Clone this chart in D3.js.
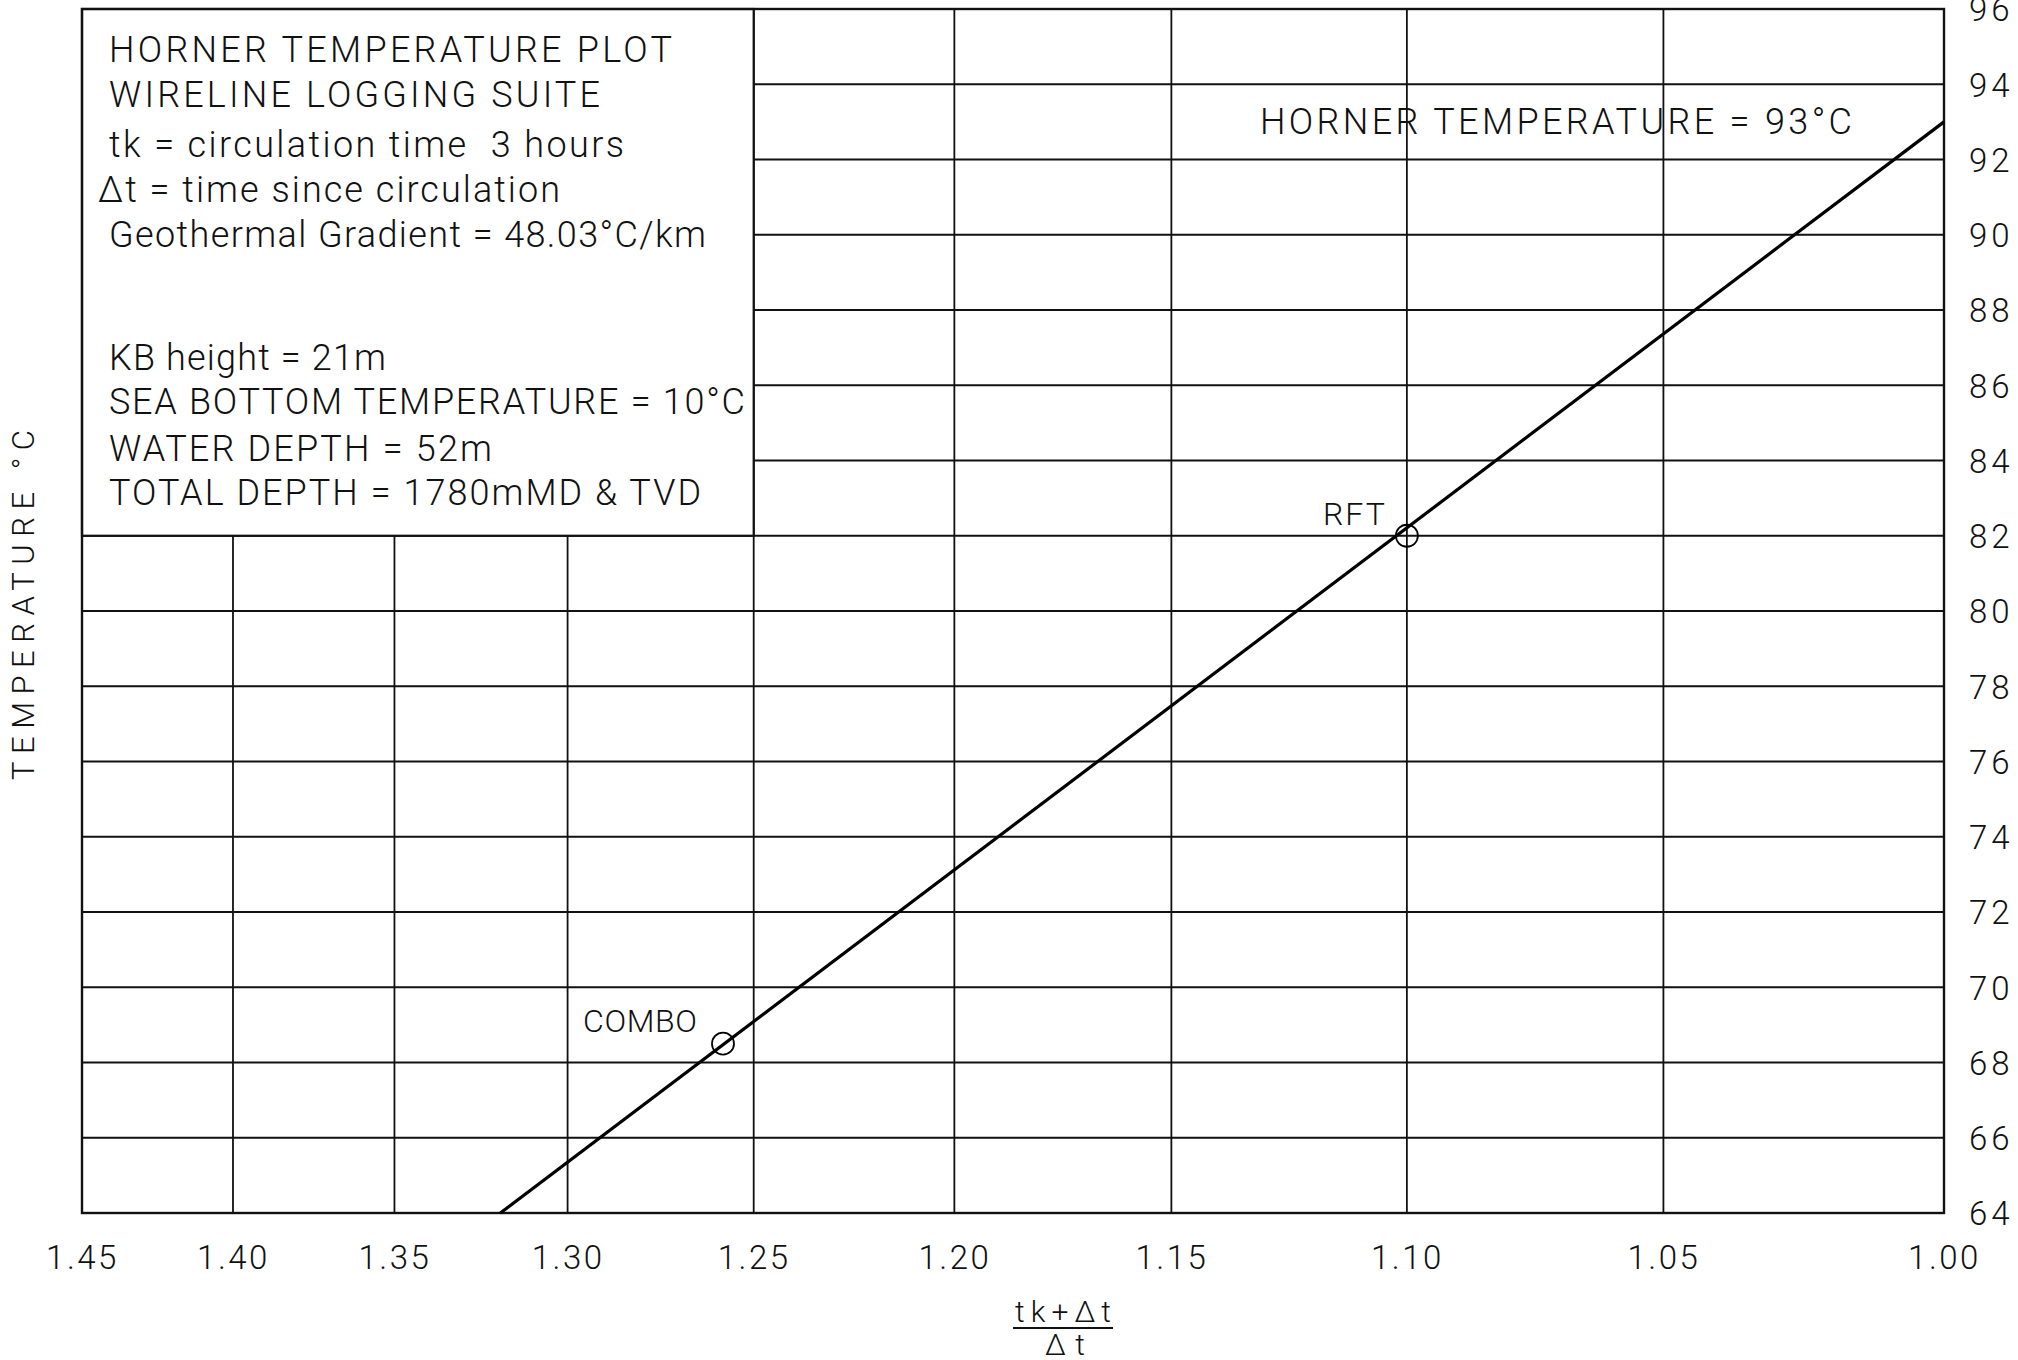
<!DOCTYPE html>
<html>
<head>
<meta charset="utf-8">
<script src="https://cdn.jsdelivr.net/npm/d3@7"></script>
<style>
	html, body { margin:0; padding:0; background:#fff; }
	svg { display:block; }
	text { font-family: Roboto, "Liberation Sans", sans-serif; font-weight:300; fill:#111; white-space:pre; }
	.grid { stroke:#111; stroke-width:1.8; }
	.frame { fill:none; stroke:#111; stroke-width:2.4; }
	.infobox { fill:#fff; stroke:#111; stroke-width:2.2; }
	.horner { fill:none; stroke:#000; stroke-width:3.2; }
	.reading { fill:none; stroke:#000; stroke-width:1.8; }
</style>
</head>
<body>
<svg id="chart" width="2018" height="1360"></svg>
<script>
// ---- data ----
var xTicks = [1.45, 1.40, 1.35, 1.30, 1.25, 1.20, 1.15, 1.10, 1.05, 1.00];
var yTicks = [64, 66, 68, 70, 72, 74, 76, 78, 80, 82, 84, 86, 88, 90, 92, 94, 96];
var hornerLine = [{x:1.319, t:64}, {x:1.00, t:93}];   // extrapolated straight line
var readings = [{name:"COMBO", x:1.258, t:68.5}, {name:"RFT", x:1.10, t:82.0}];
var boxCorner = {x:1.25, t:82};                        // info box covers up to here
var infoLines = [
	"HORNER TEMPERATURE PLOT",
	"WIRELINE LOGGING SUITE",
	"tk = circulation time  3 hours",
	"\u0394t = time since circulation",
	"Geothermal Gradient = 48.03\u00b0C/km",
	"KB height = 21m",
	"SEA BOTTOM TEMPERATURE = 10\u00b0C",
	"WATER DEPTH = 52m",
	"TOTAL DEPTH = 1780mMD & TVD"
];
var hornerLabel = "HORNER TEMPERATURE = 93\u00b0C";
var yTitle = "TEMPERATURE \u00b0C";
var xTitleTop = "tk+\u0394t", xTitleBottom = "\u0394t";

// ---- layout ---- (window.top is read-only, so plot edges get their own names)
var plotL = 82, plotR = 1944, plotT = 9, plotB = 1213;
var infoBase = [62, 107, 157, 202, 247, 370, 414, 461, 505];
var infoX = [109, 109, 109, 98, 109, 109, 109, 109, 109];
var infoLen = [563, 491, 515, 462, 597, 277, 636, 383, 592];

var svg = d3.select("#chart");

// the paper's abscissa is compressed towards 1.45, close to a reciprocal spacing
var x = d3.scalePow().exponent(-0.88).domain([1.45, 1.00]).range([plotL, plotR]);
var y = d3.scaleLinear().domain([64, 96]).range([plotB, plotT]);

var g = svg.append("g");

// grid
g.selectAll(".gx").data(xTicks.slice(1, -1)).enter().append("line")
	.attr("class", "grid")
	.attr("x1", d => x(d)).attr("x2", d => x(d))
	.attr("y1", plotT).attr("y2", plotB);
g.selectAll(".gy").data(yTicks.slice(1, -1)).enter().append("line")
	.attr("class", "grid")
	.attr("x1", plotL).attr("x2", plotR)
	.attr("y1", d => y(d)).attr("y2", d => y(d));

// info box (hides grid behind it)
g.append("rect")
	.attr("class", "infobox")
	.attr("x", plotL).attr("y", plotT)
	.attr("width", x(boxCorner.x) - plotL)
	.attr("height", y(boxCorner.t) - plotT);

g.selectAll(".info").data(infoLines).enter().append("text")
	.attr("x", (d, i) => infoX[i])
	.attr("y", (d, i) => infoBase[i])
	.attr("textLength", (d, i) => infoLen[i])
	.attr("lengthAdjust", "spacing")
	.style("font-size", "36px")
	.text(d => d);

// frame
g.append("rect")
	.attr("class", "frame")
	.attr("x", plotL).attr("y", plotT)
	.attr("width", plotR - plotL).attr("height", plotB - plotT);

// horner line
var line = d3.line().x(d => x(d.x)).y(d => y(d.t));
g.append("path").datum(hornerLine).attr("class", "horner").attr("d", line);

// readings
var rd = g.selectAll(".rd").data(readings).enter().append("g")
	.attr("transform", d => "translate(" + x(d.x) + "," + y(d.t) + ")");
rd.append("circle").attr("class", "reading").attr("r", 11);
rd.append("text")
	.attr("text-anchor", "end")
	.attr("x", d => d.name === "RFT" ? -22 : -26)
	.attr("y", d => d.name === "RFT" ? -11 : -12)
	.attr("textLength", d => d.name === "RFT" ? 62 : 114)
	.attr("lengthAdjust", "spacing")
	.style("font-size", "32px")
	.text(d => d.name);

g.append("text")
	.attr("x", 1260).attr("y", 134)
	.attr("textLength", 592).attr("lengthAdjust", "spacing")
	.style("font-size", "36px")
	.text(hornerLabel);

// axes
var xAxis = d3.axisBottom(x).tickValues(xTicks).tickFormat(d3.format(".2f")).tickSize(0).tickPadding(0);
var ax = svg.append("g").attr("transform", "translate(0," + plotB + ")").call(xAxis);
ax.select(".domain").remove();
ax.selectAll("text")
	.attr("y", 56).attr("dy", null)
	.style("font-size", "33px").style("letter-spacing", "2.5px")
	.style("font-family", "Roboto, 'Liberation Sans', sans-serif").attr("fill", "#111");

var yAxis = d3.axisRight(y).tickValues(yTicks).tickFormat(d3.format("d")).tickSize(0).tickPadding(0);
var ay = svg.append("g").attr("transform", "translate(" + plotR + ",0)").call(yAxis);
ay.select(".domain").remove();
ay.selectAll("text")
	.attr("x", 25).attr("dy", "0.36em")
	.style("font-size", "33px").style("letter-spacing", "4px")
	.style("font-family", "Roboto, 'Liberation Sans', sans-serif").attr("fill", "#111");

// titles
svg.append("text")
	.attr("transform", "translate(34,605) rotate(-90)")
	.attr("text-anchor", "middle")
	.attr("textLength", 350).attr("lengthAdjust", "spacing")
	.style("font-size", "31px")
	.text(yTitle);

svg.append("text")
	.attr("x", 1063).attr("y", 1322)
	.attr("text-anchor", "middle")
	.attr("textLength", 96).attr("lengthAdjust", "spacing")
	.style("font-size", "30px")
	.text(xTitleTop);
svg.append("line")
	.attr("x1", 1013).attr("x2", 1113).attr("y1", 1328).attr("y2", 1328)
	.attr("stroke", "#111").attr("stroke-width", 1.8);
svg.append("text")
	.attr("x", 1065).attr("y", 1355)
	.attr("text-anchor", "middle")
	.attr("textLength", 40).attr("lengthAdjust", "spacing")
	.style("font-size", "30px")
	.text(xTitleBottom);
</script>
</body>
</html>
